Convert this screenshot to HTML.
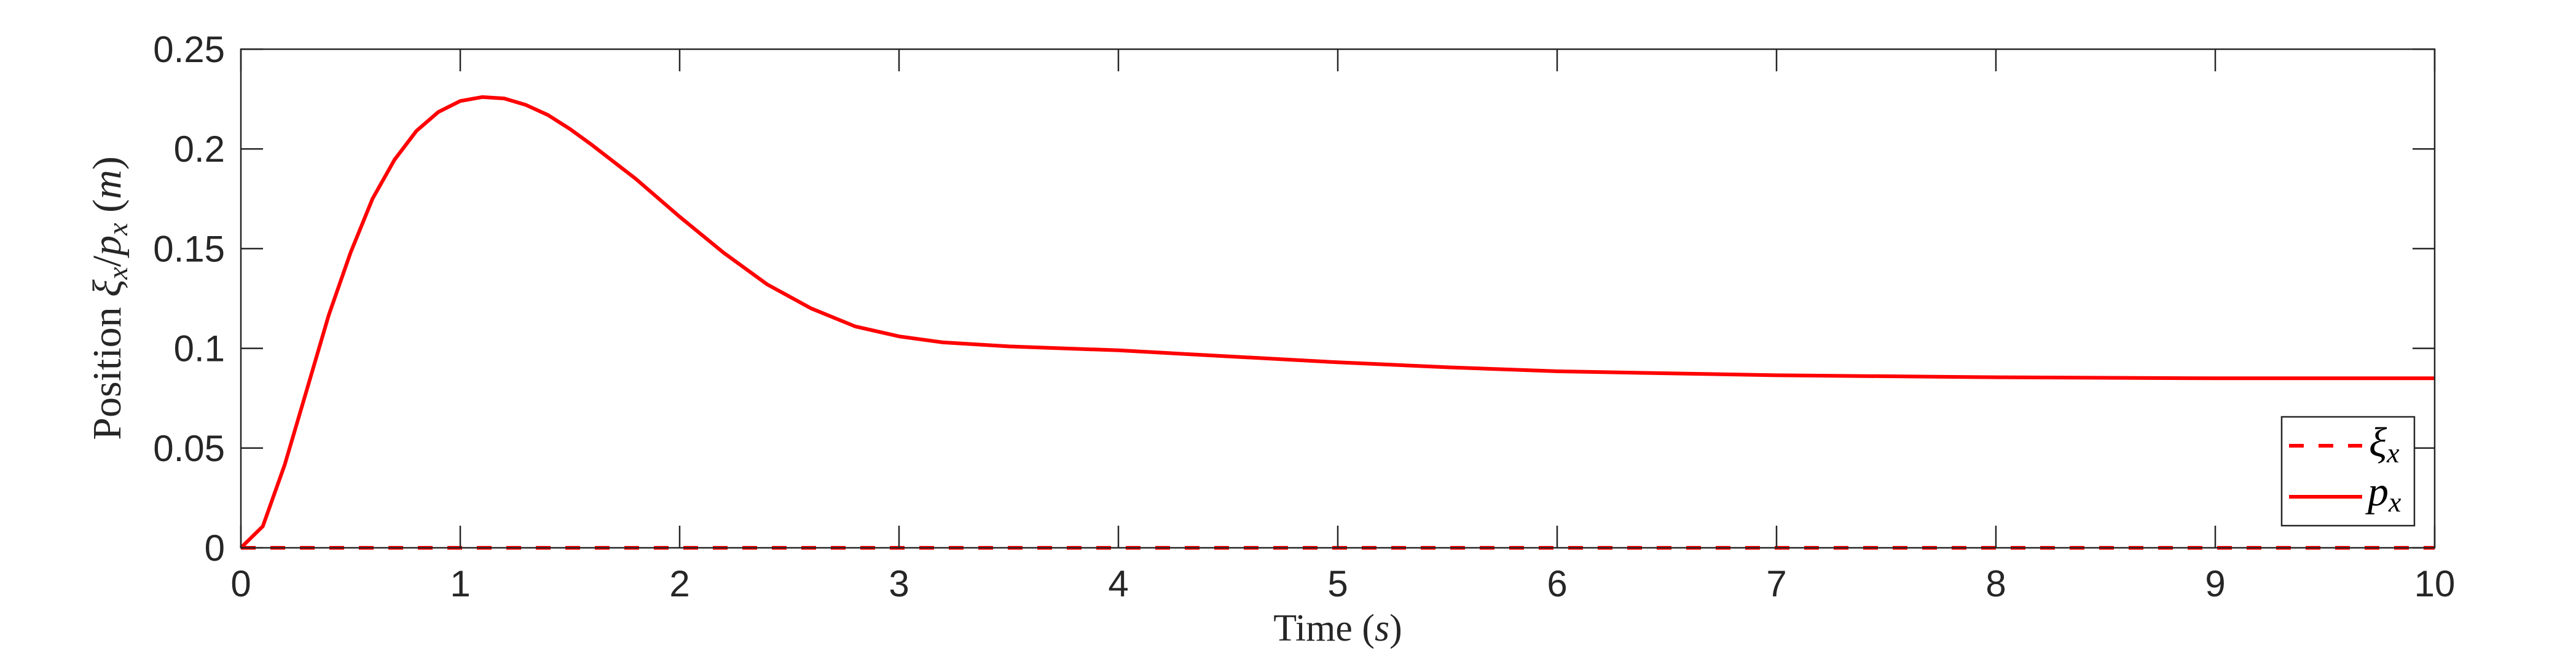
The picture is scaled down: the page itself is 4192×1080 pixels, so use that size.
<!DOCTYPE html>
<html><head><meta charset="utf-8"><style>
html,body{margin:0;padding:0;background:#fff;}
svg{display:block;}
</style></head><body>
<svg id="chart" width="4192" height="1080" xmlns="http://www.w3.org/2000/svg">
<rect width="4192" height="1080" fill="#fff"/>
<g id="grid"></g>
<g id="series"></g>
<g id="axes"></g>
</svg>
<script>
const timeVals = [0,0.1,0.2,0.3,0.4,0.5,0.6,0.7,0.8,0.9,1.0,1.1,1.2,1.3,1.4,1.5,1.6,1.8,2.0,2.2,2.4,2.6,2.8,3.0,3.2,3.5,4.0,4.5,5.0,5.5,6.0,7.0,8.0,9.0,10.0];
const pxVals = [0,0.0108,0.0417,0.079,0.1165,0.148,0.175,0.1945,0.209,0.2185,0.224,0.226,0.2253,0.222,0.217,0.21,0.202,0.185,0.166,0.148,0.132,0.12,0.111,0.106,0.103,0.101,0.099,0.096,0.093,0.0905,0.0885,0.0865,0.0855,0.085,0.085];
const xiTimes = [0,10];
const xiVals = [0,0];
const xTicks = [0,1,2,3,4,5,6,7,8,9,10];
const yTicks = [0,0.05,0.1,0.15,0.2,0.25];
const yTickLabels = ["0","0.05","0.1","0.15","0.2","0.25"];

const L=392,R=3962,T=80,B=891;
const xs = v => L + (v-0)/(10-0)*(R-L);
const ys = v => B - (v-0)/(0.25-0)*(B-T);
const NS="http://www.w3.org/2000/svg";
function mk(tag, attrs, parent){const e=document.createElementNS(NS,tag);for(const k in attrs)e.setAttribute(k,attrs[k]);parent.appendChild(e);return e;}
const axes=document.getElementById('axes'), series=document.getElementById('series');

let d = timeVals.map((t,i)=>(i?'L':'M')+xs(t).toFixed(1)+','+ys(pxVals[i]).toFixed(1)).join(' ');
const pl = mk('path',{d:d,fill:'none',stroke:'#ff0000','stroke-width':6,'stroke-linejoin':'round'},series);


let d2 = xiTimes.map((t,i)=>(i?'L':'M')+xs(t).toFixed(1)+','+ys(xiVals[i]).toFixed(1)).join(' ');
const xl = mk('path',{d:d2,fill:'none',stroke:'#ff0000','stroke-width':6,'stroke-dasharray':'24,24'},series);



const box = mk('rect',{x:L,y:T,width:R-L,height:B-T,fill:'none',stroke:'#262626','stroke-width':2.5},axes);



xTicks.forEach(v=>{
  const x=xs(v);
  mk('line',{x1:x,y1:B,x2:x,y2:B-36,stroke:'#262626','stroke-width':2.5},axes);
  mk('line',{x1:x,y1:T,x2:x,y2:T+36,stroke:'#262626','stroke-width':2.5},axes);
  const t=mk('text',{x:x,y:970,'text-anchor':'middle','font-family':'Liberation Sans, sans-serif','font-size':60,fill:'#262626'},axes);
  t.textContent=String(v);
  
  
});
yTicks.forEach((v,i)=>{
  const y=ys(v);
  mk('line',{x1:L,y1:y,x2:L+36,y2:y,stroke:'#262626','stroke-width':2.5},axes);
  mk('line',{x1:R,y1:y,x2:R-36,y2:y,stroke:'#262626','stroke-width':2.5},axes);
  const t=mk('text',{x:366,y:y+21,'text-anchor':'end','font-family':'Liberation Sans, sans-serif','font-size':60,fill:'#262626'},axes);
  t.textContent=yTickLabels[i];
  
  
});
</script>
<svg style="position:absolute;left:0;top:0" width="4192" height="1080" xmlns="http://www.w3.org/2000/svg">
<text x="2177" y="1042" text-anchor="middle" font-family="Liberation Serif, serif" font-size="62" fill="#262626">Time (<tspan font-style="italic">s</tspan>)</text>
<text transform="translate(196,485) rotate(-90)" text-anchor="middle" font-family="Liberation Serif, serif" font-size="66" fill="#262626">Position <tspan font-style="italic">ξ</tspan><tspan font-style="italic" font-size="46" dy="11">x</tspan><tspan dy="-11">/</tspan><tspan font-style="italic">p</tspan><tspan font-style="italic" font-size="46" dy="11">x</tspan><tspan dy="-11"> (</tspan><tspan font-style="italic">m</tspan>)</text>
<g>
<rect x="3713" y="678" width="216" height="177" fill="#fff" stroke="#262626" stroke-width="2.5"/>
<line x1="3725" y1="725" x2="3844" y2="725" stroke="#ff0000" stroke-width="6" stroke-dasharray="24,24"/>
<text x="3855" y="742" font-family="Liberation Serif, serif" font-style="italic" font-size="68" fill="#000">ξ<tspan font-size="46" dy="10">x</tspan></text>
<line x1="3725" y1="808" x2="3844" y2="808" stroke="#ff0000" stroke-width="6"/>
<text x="3853" y="822" font-family="Liberation Serif, serif" font-style="italic" font-size="68" fill="#000">p<tspan font-size="46" dy="10">x</tspan></text>
</g>
</svg>
</body></html>
